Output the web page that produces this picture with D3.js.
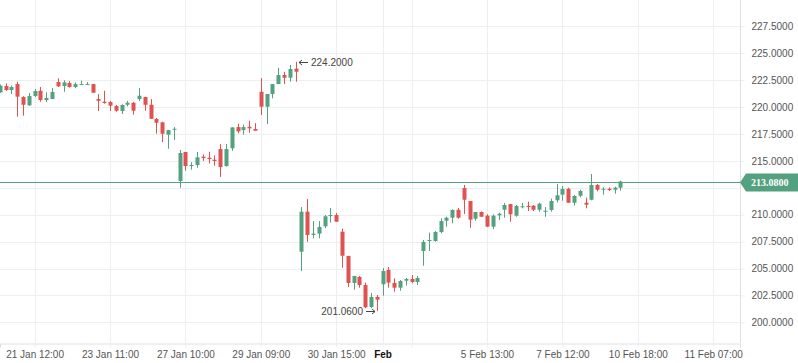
<!DOCTYPE html>
<html>
<head>
<meta charset="utf-8">
<script src="https://cdn.jsdelivr.net/npm/d3@7/dist/d3.min.js"></script>
<style>
  body { margin: 0; background: #fff; }
</style>
</head>
<body>
<div id="chart"></div>
<script>
// hourly bars, index 0 = 21 Jan 12:00
const firstBar = -6;
const opens  = [221.37,221.95,221.58,222.13,220.93,220.16,221.02,221.51,220.65,220.74,222.32,221.95,222.23,221.86,222.07,222.07,222.13,220.74,220.49,220.46,220.09,219.63,220.21,220.40,220.74,220.93,220.21,218.89,218.58,217.43,217.89,213.13,215.82,214.52,214.61,215.39,215.29,215.11,216.10,214.52,216.17,218.14,217.86,218.17,217.96,221.42,220.03,221.21,222.13,222.97,222.72,223.56,206.56,210.28,208.12,208.24,208.92,209.88,209.97,208.42,206.17,203.66,204.22,203.47,201.43,202.36,203.54,204.87,203.66,203.22,203.87,204.03,203.75,206.63,207.56,207.56,208.39,209.44,209.72,210.46,212.48,211.27,209.63,210.25,209.91,208.89,209.94,210.46,210.99,209.91,210.69,210.81,210.84,210.46,210.28,210.44,211.34,211.86,212.41,211.11,211.76,211.11,211.39,212.76,212.32,212.41,212.32,212.51];
const highs  = [222.10,222.20,222.00,222.35,221.00,221.30,221.67,221.86,221.37,221.76,222.67,222.48,222.41,222.29,222.44,222.32,222.15,221.20,221.51,220.56,220.19,220.25,220.56,220.46,221.76,220.95,220.74,218.98,218.64,217.87,218.14,216.01,215.82,214.87,215.82,215.60,215.85,215.50,216.56,216.56,218.11,218.45,218.36,218.73,218.51,222.69,221.21,222.13,223.65,223.28,223.90,224.20,210.71,211.46,209.41,209.41,209.97,210.62,210.16,208.70,206.17,204.31,204.31,203.69,202.73,202.54,205.05,205.14,204.09,203.94,204.12,204.40,204.31,207.65,208.33,208.49,209.67,209.81,210.50,210.62,212.76,211.27,210.25,210.30,210.04,210.04,210.19,211.09,211.00,210.90,211.09,211.21,210.90,211.11,210.71,211.49,212.85,212.67,212.51,211.83,212.32,211.58,213.78,212.85,212.54,212.54,212.60,213.16];
const lows   = [221.30,221.50,221.20,219.10,219.20,220.10,220.93,220.49,220.46,220.74,221.86,221.42,221.80,221.74,222.07,222.07,221.30,219.63,220.31,219.63,219.56,219.35,220.06,219.29,220.56,219.66,218.90,217.52,216.75,216.13,216.94,212.51,214.09,214.18,214.36,214.99,214.77,214.55,213.50,214.46,215.94,217.56,217.43,217.61,217.80,219.26,218.42,220.81,222.13,222.13,222.35,222.35,204.77,207.49,207.81,207.81,208.74,209.26,209.35,205.08,203.29,203.04,203.22,201.31,201.31,201.06,202.48,203.22,202.85,202.94,203.41,203.63,203.47,205.26,206.63,207.49,208.27,208.89,209.20,209.63,210.06,208.79,209.44,209.78,208.85,208.67,209.51,209.72,209.35,209.81,210.59,210.34,210.32,210.28,209.81,210.28,211.13,211.30,211.11,210.84,211.62,210.59,211.34,212.17,211.86,212.20,211.95,212.23];
const closes = [221.98,221.58,221.86,220.96,220.21,221.02,221.49,220.65,220.84,221.39,221.92,222.29,221.86,222.13,222.13,222.13,221.33,220.58,220.37,220.12,219.66,220.19,220.40,219.66,221.05,220.21,218.91,218.54,217.52,217.86,217.98,215.73,214.52,214.61,215.33,215.26,215.17,214.99,214.42,216.10,218.11,217.74,218.14,218.02,217.80,220.03,221.21,222.13,222.97,222.72,223.53,223.28,210.28,208.12,208.24,208.86,209.85,209.97,209.35,206.19,203.66,204.31,203.47,201.40,202.36,202.11,204.77,203.69,203.22,203.84,204.03,203.75,204.12,207.47,207.65,208.39,209.41,209.72,210.44,209.72,211.39,209.54,210.25,209.81,208.89,209.91,210.09,210.90,210.04,210.80,210.78,210.71,210.46,211.02,210.37,211.27,211.80,212.39,211.11,211.74,212.20,210.93,212.76,212.32,212.41,212.29,212.51,213.08];

const xTickIdx    = [0, 13, 26, 39, 52, 60, 65, 78, 91, 104, 117];
const xTickLabels = ["21 Jan 12:00", "23 Jan 11:00", "27 Jan 10:00", "29 Jan 09:00", "30 Jan 15:00", "Feb", "", "5 Feb 13:00", "7 Feb 12:00", "10 Feb 18:00", "11 Feb 07:00"];
const yTicks = [200, 202.5, 205, 207.5, 210, 212.5, 215, 217.5, 220, 222.5, 225, 227.5];

const W = 798, H = 363, plotW = 740, plotH = 342.5;
const up = "#53a17f", down = "#e0524f", grid = "#eceef1";

const bars = opens.map((o, k) => ({ i: firstBar + k, o: o, h: highs[k], l: lows[k], c: closes[k] }));
const lastClose = closes[closes.length - 1];

const x = d3.scaleLinear().domain([-5.96, 121.62]).range([0, plotW]);
const y = d3.scaleLinear().domain([198.13, 229.94]).range([plotH, 0]);

const svg = d3.select("#chart").append("svg")
    .attr("width", W).attr("height", H)
    .style("font-family", "'Liberation Serif', 'DejaVu Serif', serif");

// grid
svg.append("g").selectAll("line").data(xTickIdx).join("line")
    .attr("x1", d => Math.round(x(d)) + 0.5).attr("x2", d => Math.round(x(d)) + 0.5)
    .attr("y1", 0).attr("y2", plotH)
    .attr("stroke", grid);
svg.append("g").selectAll("line").data(yTicks).join("line")
    .attr("x1", 0).attr("x2", plotW)
    .attr("y1", d => Math.round(y(d)) + 0.5).attr("y2", d => Math.round(y(d)) + 0.5)
    .attr("stroke", grid);

// axes
const xAxis = svg.append("g")
    .attr("transform", `translate(0, ${Math.round(plotH) + 0.5})`)
    .call(d3.axisBottom(x).tickValues(xTickIdx).tickSize(4).tickPadding(3)
        .tickFormat((d, k) => xTickLabels[k]));
xAxis.select(".domain").attr("stroke", "#dcdfe3");
xAxis.selectAll(".tick line").attr("stroke", grid);
xAxis.selectAll("text").attr("fill", "#555").style("font-size", "10px")
    .filter(d => d === 60).attr("fill", "#111").style("font-weight", "bold");

const yAxis = svg.append("g")
    .attr("transform", `translate(${plotW + 0.5}, 0)`)
    .call(d3.axisRight(y).tickValues(yTicks.filter(v => Math.abs(v - lastClose) > 1))
        .tickSize(4).tickPadding(7).tickFormat(d3.format(".4f")));
yAxis.select(".domain").attr("stroke", "#dcdfe3").attr("d", `M0,0V${Math.round(plotH)}`);
yAxis.selectAll(".tick line").attr("stroke", grid);
yAxis.selectAll("text").attr("fill", "#555").style("font-size", "10px");

// candles
const cg = svg.append("g");
cg.selectAll("line").data(bars).join("line")
    .attr("x1", d => Math.round(x(d.i)) + 0.5).attr("x2", d => Math.round(x(d.i)) + 0.5)
    .attr("y1", d => y(d.h)).attr("y2", d => y(d.l))
    .attr("stroke", d => d.c >= d.o ? up : down);
cg.selectAll("rect").data(bars).join("rect")
    .attr("x", d => Math.round(x(d.i)) - 1.5)
    .attr("width", 4)
    .attr("y", d => y(Math.max(d.o, d.c)))
    .attr("height", d => Math.max(1, Math.abs(y(d.o) - y(d.c))))
    .attr("fill", d => d.c >= d.o ? up : down);

// last price line + label
const ly = Math.round(y(lastClose)) + 0.5;
svg.append("line").attr("x1", 0).attr("x2", plotW).attr("y1", ly).attr("y2", ly)
    .attr("stroke", up).attr("stroke-width", 1);
svg.append("path")
    .attr("d", `M${plotW},${ly} L${plotW + 6},${ly - 9} H${W} V${ly + 9} H${plotW + 6} Z`)
    .attr("fill", up);
svg.append("text").attr("x", plotW + 11).attr("y", ly).attr("dy", "0.35em")
    .attr("fill", "#fff").style("font-size", "10px").style("font-weight", "bold")
    .text(d3.format(".4f")(lastClose));

// high / low notes
const hiBar = bars[d3.maxIndex(bars, d => d.h)];
const loBar = bars[d3.minIndex(bars, d => d.l)];
const note = svg.append("g").attr("fill", "#444").attr("stroke", "#444")
    .style("font-family", "'Liberation Sans', Arial, sans-serif").style("font-size", "10px");

const hx = Math.round(x(hiBar.i)) + 3, hy = Math.round(y(hiBar.h)) + 0.5;
note.append("path").attr("fill", "none")
    .attr("d", `M${hx},${hy} H${hx + 9} M${hx},${hy} l3,-2.5 M${hx},${hy} l3,2.5`);
note.append("text").attr("stroke", "none").attr("x", hx + 12).attr("y", hy).attr("dy", "0.35em")
    .text(d3.format(".4f")(hiBar.h));

const lx = Math.round(x(loBar.i)) - 2, lyy = Math.round(y(loBar.l)) + 0.5;
note.append("path").attr("fill", "none")
    .attr("d", `M${lx},${lyy} H${lx - 9} M${lx},${lyy} l-3,-2.5 M${lx},${lyy} l-3,2.5`);
note.append("text").attr("stroke", "none").attr("x", lx - 12).attr("y", lyy).attr("dy", "0.35em")
    .attr("text-anchor", "end")
    .text(d3.format(".4f")(loBar.l));
</script>
</body>
</html>
